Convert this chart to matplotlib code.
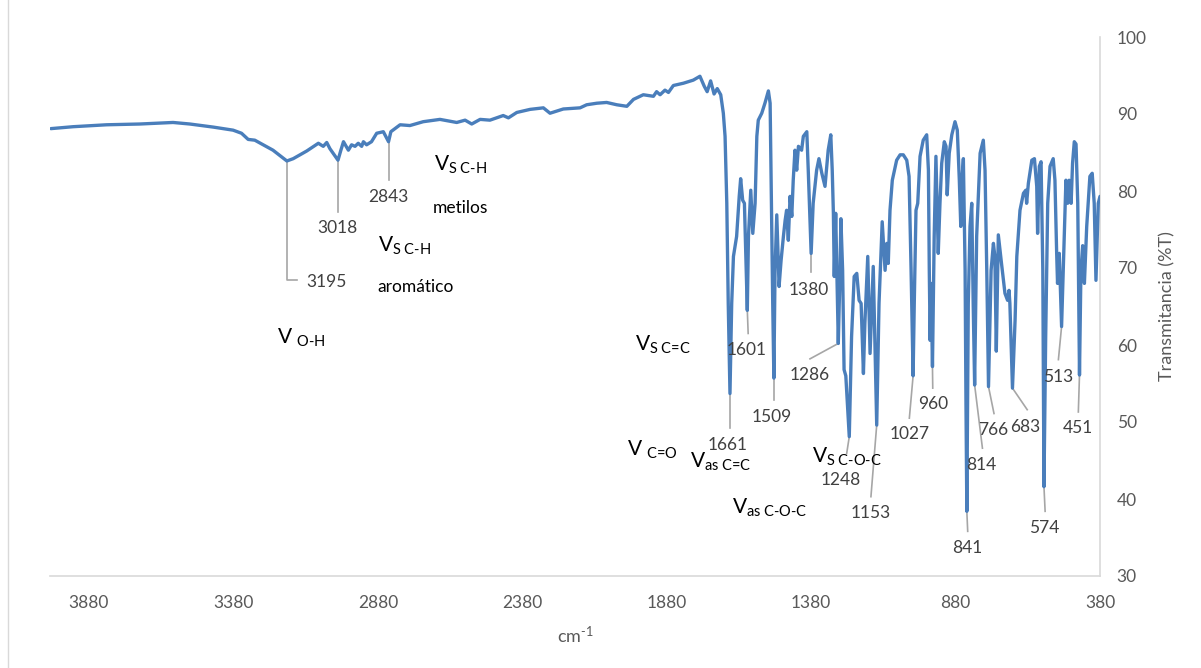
import matplotlib
matplotlib.use('Agg')
import matplotlib.pyplot as plt
import numpy as np

# ---------------- data ----------------
wavenumber = [
    4012, 3935, 3819, 3704, 3589, 3531, 3450, 3381, 3352, 3329, 3306, 3277, 3243,
    3195, 3173, 3126, 3086, 3069, 3057, 3046, 3018, 3008, 2999, 2982, 2971, 2959,
    2948, 2936, 2930, 2919, 2902, 2884, 2861, 2843, 2835, 2803,
    2769, 2723, 2665, 2607, 2578, 2555, 2526, 2492, 2446, 2428, 2399, 2353, 2307,
    2284, 2238, 2180, 2157, 2122, 2088, 2053, 2018, 1995, 1961, 1926, 1915, 1903,
    1886, 1874, 1857, 1822, 1788, 1765, 1750, 1740, 1728, 1716, 1705, 1693, 1684,
    1678, 1672, 1667, 1661, 1655, 1649, 1638, 1629, 1624, 1617, 1611, 1601, 1597,
    1589, 1582, 1574, 1568, 1563, 1551, 1540, 1528, 1522, 1519, 1513, 1509, 1505,
    1499, 1491, 1484, 1476, 1470, 1465, 1459, 1453, 1447, 1442, 1436, 1430, 1424,
    1413, 1407, 1395, 1390, 1380, 1373, 1361, 1353, 1343, 1332, 1321, 1312, 1307,
    1303, 1300, 1295, 1286, 1280, 1277, 1271, 1266, 1260, 1248, 1240, 1231, 1222,
    1214, 1207, 1199, 1194, 1184, 1176, 1165, 1153, 1145, 1134, 1124, 1118, 1113,
    1107, 1099, 1084, 1072, 1061, 1049, 1041, 1034, 1027, 1023, 1017, 1011, 1003,
    992, 980, 974, 971, 968, 965, 960, 954, 948, 940, 934, 928, 919, 913, 909, 902,
    893, 882, 874, 867, 862, 857, 853, 847, 844, 841, 836, 830, 824, 819, 814, 807,
    795, 784, 778, 772, 766, 757, 749, 744, 739, 732, 721, 709, 700, 695, 692, 683,
    674, 668, 657, 645, 637, 634, 628, 616, 607, 599, 596, 590, 584, 578, 574, 568,
    561, 553, 542, 536, 530, 527, 521, 513, 504, 498, 492, 487, 480, 475, 469, 463,
    457, 451, 446, 440, 434, 426, 415, 407, 400, 394, 386, 380,
]
transmittance = [
    88.1, 88.35, 88.6, 88.7, 88.9, 88.7, 88.3, 87.9, 87.5, 86.7, 86.6, 86.0, 85.3,
    83.9, 84.2, 85.2, 86.2, 85.8, 86.3, 85.5, 84.0, 85.3, 86.4, 85.3, 86.0, 85.8,
    86.2, 85.8, 86.4, 86.0, 86.4, 87.5, 87.7, 86.4, 87.7, 88.6,
    88.5, 89.0, 89.3, 88.9, 89.2, 88.7, 89.3, 89.2, 89.8, 89.5, 90.2, 90.6, 90.8,
    90.1, 90.65, 90.8, 91.2, 91.4, 91.5, 91.2, 91.0, 91.9, 92.5, 92.3, 92.9, 92.5,
    93.1, 92.8, 93.7, 94.0, 94.4, 94.9, 93.6, 92.9, 94.3, 92.6, 93.3, 92.5, 90.1,
    87.1, 78.4, 65.4, 53.7, 65.4, 71.5, 74.1, 79.3, 81.6, 78.8, 78.4, 64.5, 74.1,
    80.1, 74.5, 78.4, 87.1, 89.2, 90.1, 91.4, 93.0, 91.4, 82.7, 65.4, 55.7, 69.7,
    76.9, 67.6, 71.0, 74.1, 76.2, 77.5, 73.6, 79.3, 76.7, 81.4, 85.3, 82.7, 85.8,
    85.3, 87.1, 87.7, 82.7, 71.9, 78.4, 82.7, 84.2, 82.3, 80.6, 85.3, 87.3, 82.7,
    77.1, 68.9, 77.1, 60.2, 69.7, 76.4, 69.7, 56.8, 56.0, 48.1, 61.1, 68.9, 69.3,
    65.8, 65.4, 56.3, 62.8, 71.5, 58.9, 70.2, 49.6, 65.4, 76.0, 69.7, 73.2, 70.6,
    77.5, 81.4, 84.0, 84.7, 84.7, 84.0, 81.9, 69.7, 56.0, 65.4, 77.5, 78.4, 84.5,
    86.6, 87.3, 82.7, 69.7, 60.6, 68.0, 57.2, 74.1, 84.5, 71.9, 78.4, 83.6, 86.4, 85.8, 79.5, 84.9,
    87.3, 89.0, 87.9, 81.4, 75.4, 81.9, 84.2, 69.7, 52.4, 38.4, 65.4, 75.4, 78.4, 65.4, 54.8, 74.1,
    84.9, 86.6, 82.7, 69.7, 54.6, 69.7, 73.2, 71.5, 59.2, 74.3, 70.6, 66.7, 65.8, 67.1, 65.4, 54.4,
    63.2, 71.5, 77.5, 79.7, 80.1, 78.4, 81.0, 84.0, 84.2, 80.6, 74.5, 83.2, 83.8, 69.7, 41.6, 61.1,
    78.4, 83.2, 84.2, 81.4, 71.9, 68.0, 71.9, 62.4, 74.1, 81.4, 78.4, 81.4, 78.4, 83.6, 86.4, 86.1,
    78.4, 56.1, 69.7, 72.9, 68.0, 75.4, 81.9, 82.3, 78.4, 68.4, 78.4, 79.3,
]

x_ticks = [3880, 3380, 2880, 2380, 1880, 1380, 880, 380]
y_ticks = [30, 40, 50, 60, 70, 80, 90, 100]

peak_labels = ['3195', '3018', '2843', '1661', '1601', '1509', '1380', '1286',
               '1248', '1153', '1027', '960', '841', '814', '766', '683',
               '574', '513', '451']
peak_wn = [3195, 3018, 2843, 1661, 1601, 1509, 1380, 1286, 1248, 1153, 1027,
           960, 841, 814, 766, 683, 574, 513, 451]

# ---------------- layout of the peak labels (text pos, leader end) ----------
label_pos = {
    '3195': ((3128, 68.2), [(3195, 68.4), (3160, 68.4)], 'left'),
    '3018': ((3021, 75.2), [(3018, 77.3)], 'center'),
    '2843': ((2845, 79.2), [(2843, 81.4)], 'center'),
    '1661': ((1669, 47.0), [(1661, 49.2)], 'center'),
    '1601': ((1603, 59.4), [(1598, 61.5)], 'center'),
    '1509': ((1517, 50.7), [(1509, 52.9)], 'center'),
    '1380': ((1390, 67.1), [(1380, 69.5)], 'center'),
    '1286': ((1384, 56.1), [(1384, 58.2)], 'center'),
    '1248': ((1278, 42.5), [(1257, 45.9)], 'center'),
    '1153': ((1174, 38.2), [(1173, 40.3)], 'center'),
    '1027': ((1040, 48.4), [(1040, 50.5)], 'center'),
    '960':  ((959, 52.3), [(959, 54.4)], 'center'),
    '841':  ((841, 33.7), [(838, 35.8)], 'center'),
    '814':  ((790, 44.4), [(787, 46.6)], 'center'),
    '766':  ((751, 49.0), [(747, 51.1)], 'center'),
    '683':  ((640, 49.3), [(632, 51.6)], 'center'),
    '574':  ((573, 36.2), [(570, 38.4)], 'center'),
    '513':  ((526, 55.9), [(524, 58.1)], 'center'),
    '451':  ((457, 49.2), [(455, 51.3)], 'center'),
}

# band assignments: (text, x, y)
bands = [
    (r"V $_{\text{O-H}}$", 3229, 60.9),
    (r"V$_{\text{S C-H}}$", 2686, 83.4),
    (r"V$_{\text{S C-H}}$", 2880, 72.9),
    (r"V$_{\text{S C=C}}$", 1990, 60.0),
    (r"V $_{\text{C=O}}$", 2017, 46.4),
    (r"V$_{\text{as C=C}}$", 1799, 44.8),
    (r"V$_{\text{as C-O-C}}$", 1654, 38.8),
    (r"V$_{\text{S C-O-C}}$", 1377, 45.5),
]
notes = [("metilos", 2689, 77.8), ("aromático", 2880, 67.5)]

# ---------------- style ----------------
plt.rcParams['font.family'] = ['Lato', 'DejaVu Sans']
plt.rcParams['mathtext.fontset'] = 'custom'
plt.rcParams['mathtext.rm'] = 'Lato'
plt.rcParams['mathtext.it'] = 'Lato:italic'
plt.rcParams['mathtext.bf'] = 'Lato:bold'

W, H = 1201, 668
fig = plt.figure(figsize=(W / 100, H / 100), dpi=100)
ax = fig.add_axes([50 / W, 1 - 576 / H, 1050 / W, 539 / H])

line_color = '#4a7ebb'
ax.plot(wavenumber, transmittance, color=line_color, lw=2.4,
        solid_joinstyle='round', solid_capstyle='round', zorder=3)

ax.set_xlim(4015, 380)
ax.set_ylim(30, 100)
ax.set_xticks(x_ticks)
ax.set_xticklabels([str(v) for v in x_ticks])
ax.set_yticks(y_ticks)
ax.yaxis.tick_right()
ax.yaxis.set_label_position('right')
ax.tick_params(length=0, colors='#595959', labelsize=12.5)
ax.tick_params(axis='x', pad=14)
ax.tick_params(axis='y', pad=12)
for s in ['top', 'left']:
    ax.spines[s].set_visible(False)
for s in ['right', 'bottom']:
    ax.spines[s].set_color('#d9d9d9')
    ax.spines[s].set_linewidth(1.2)

ax.set_ylabel('Transmitancia (%T)', color='#595959', fontsize=13, labelpad=9)
ax.set_xlabel(r'cm$^{\text{-1}}$', color='#595959', fontsize=13, labelpad=10)

# peak labels with leader lines
wn_rev = np.array(wavenumber[::-1], dtype=float)
tr_rev = np.array(transmittance[::-1], dtype=float)
for lab, w in zip(peak_labels, peak_wn):
    t = float(np.interp(w, wn_rev, tr_rev))
    (tx, ty), path, ha = label_pos[lab]
    xs = [w] + [p[0] for p in path]
    ys = [t] + [p[1] for p in path]
    ax.plot(xs, ys, color='#a6a6a6', lw=1.2, zorder=2)
    ax.text(tx, ty, lab, ha=ha, va='center', fontsize=12.5, color='#404040')

for txt, x, y in bands:
    ax.text(x, y, txt, ha='left', va='center', fontsize=15, color='black')
for txt, x, y in notes:
    ax.text(x, y, txt, ha='left', va='center', fontsize=12.5, color='black')

# chart border
fig.add_artist(plt.Line2D([8 / W, 8 / W], [0, 1], transform=fig.transFigure,
                          color='#d9d9d9', lw=1))

fig.savefig('out.png', dpi=100)
